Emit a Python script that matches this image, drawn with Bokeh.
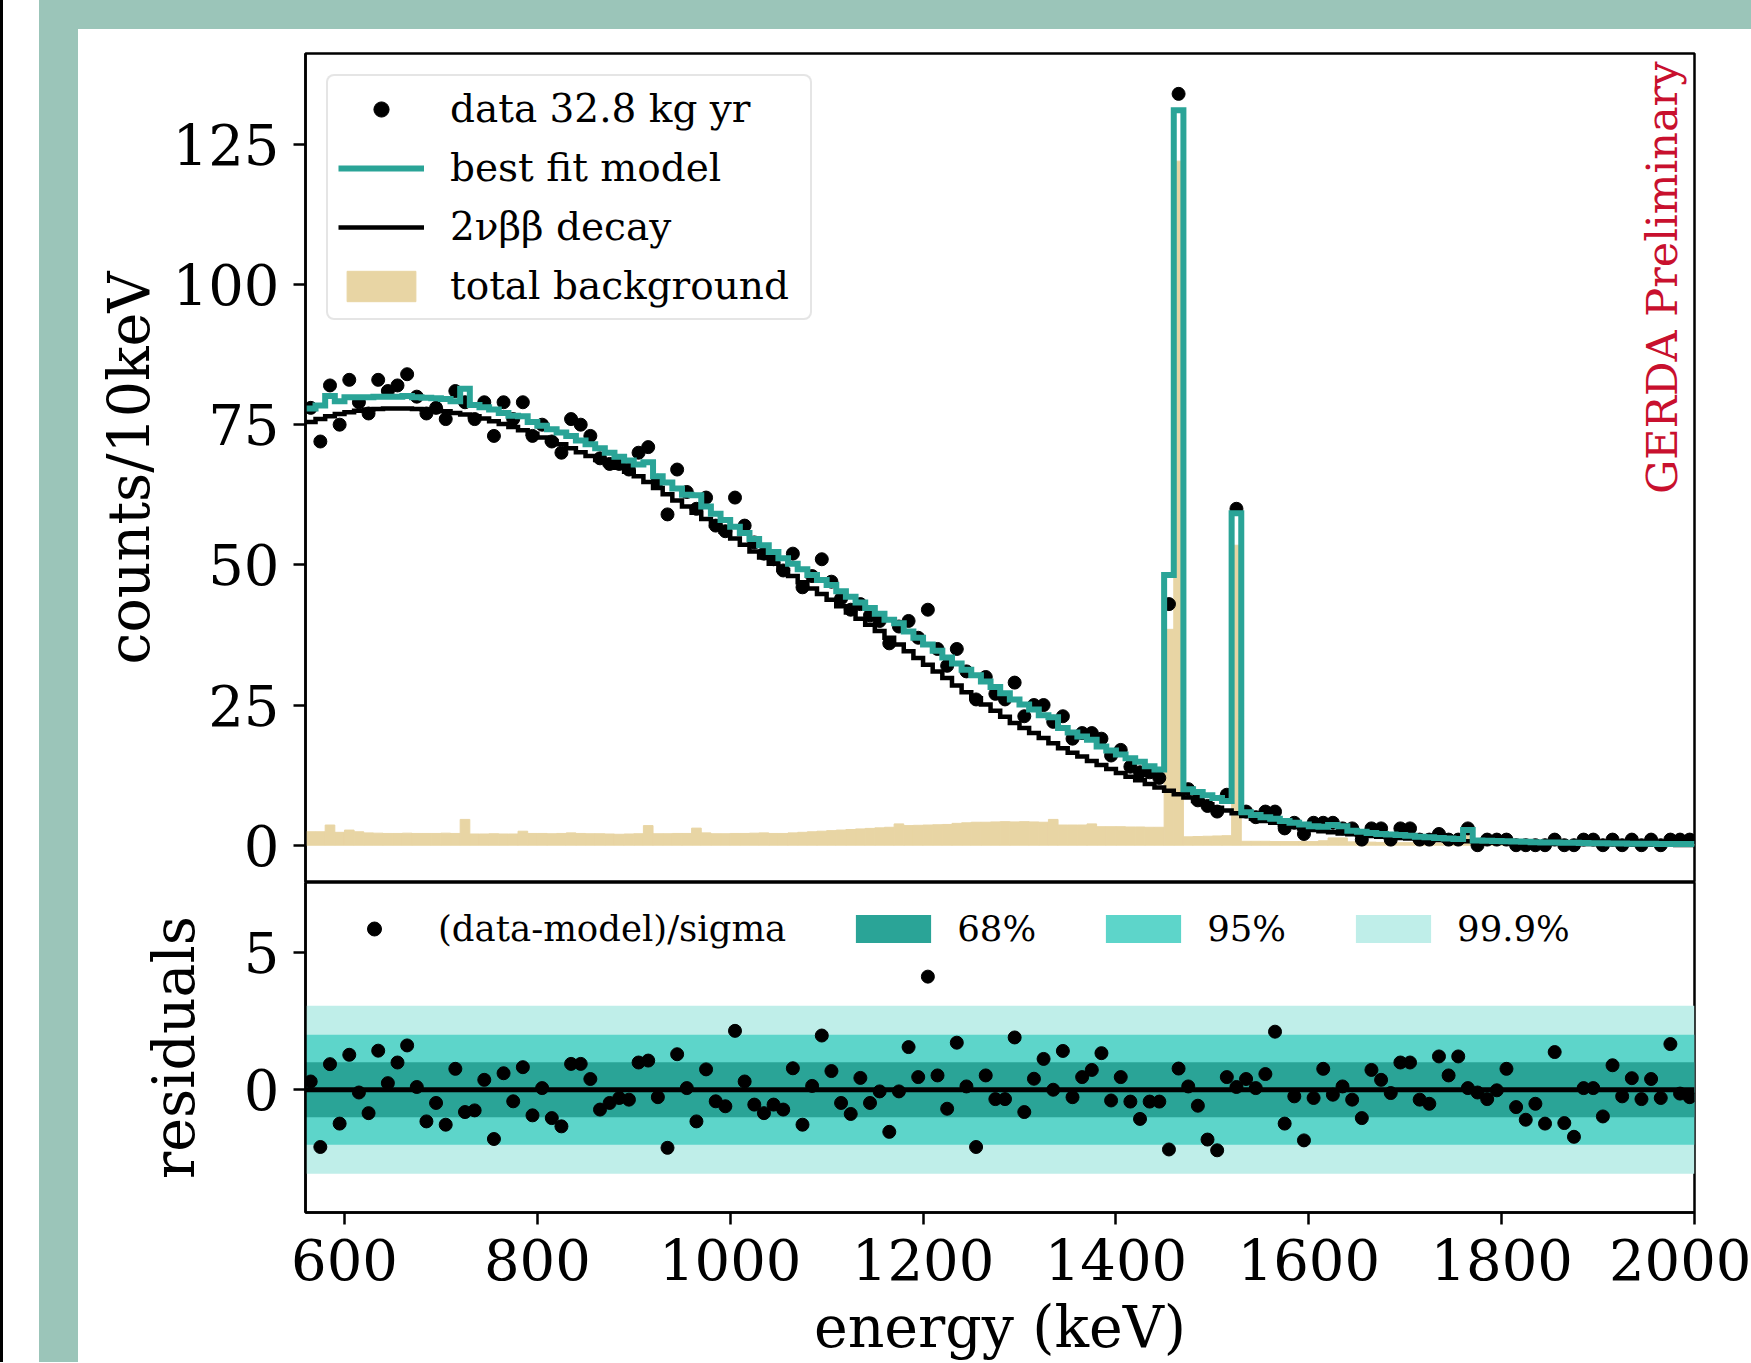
import math
from bokeh.plotting import figure
from bokeh.models import Range1d, FixedTicker, Legend, LegendItem, Label, Span, Div
from bokeh.layouts import row, column
from bokeh.embed import file_html
from bokeh.resources import INLINE

# ---------------- data (10 keV bins from 560 to 2000 keV) ----------------
bin_low = list(range(560, 2000, 10))

data_counts = [
    78, 72, 82, 75, 83, 79, 77, 83, 81, 82,
    84, 80, 77, 78, 76, 81, 79, 76, 79, 73,
    79, 76, 79, 73, 75, 72, 70, 76, 75, 73,
    69, 68, 68, 67, 70, 71, 65, 59, 67, 63,
    60, 62, 57, 56, 62, 57, 54, 52, 51, 49,
    52, 46, 48, 51, 47, 44, 42, 43, 41, 40,
    36, 39, 40, 37, 42, 35, 32, 35, 31, 26,
    30, 27, 26, 29, 23, 25, 25, 22, 23, 19,
    20, 20, 19, 16, 17, 14, 13, 13, 12, 43,
    134, 10, 8, 7, 6, 9, 60, 6, 5, 6,
    6, 3, 4, 2, 4, 4, 4, 3, 3, 1,
    3, 3, 1, 3, 3, 1, 1, 2, 1, 1,
    3, 0, 1, 1, 1, 0, 0, 0, 0, 1,
    0, 0, 1, 1, 0, 1, 0, 1, 0, 1,
    0, 1, 1, 1]

model_counts = [
    77.9, 78.4, 80.1, 79.2, 79.9, 79.9, 79.9, 80.0, 80.0, 80.0,
    80.1, 79.9, 79.8, 79.7, 79.6, 79.2, 81.4, 78.5, 78.1, 77.7,
    77.1, 76.6, 76.5, 75.5, 74.8, 74.2, 73.6, 73.0, 72.2, 71.5,
    70.8, 70.0, 69.3, 68.6, 67.9, 68.3, 65.8, 64.7, 63.6, 62.5,
    62.4, 60.4, 59.1, 58.0, 56.8, 55.7, 54.6, 53.5, 52.3, 51.2,
    50.2, 49.2, 48.2, 47.3, 46.4, 45.3, 44.3, 43.3, 42.3, 41.3,
    40.2, 39.6, 38.1, 37.0, 35.8, 34.7, 33.5, 32.4, 31.3, 30.3,
    29.2, 28.2, 27.1, 26.0, 25.1, 24.2, 23.2, 22.8, 20.9, 20.1,
    19.4, 18.8, 17.6, 16.9, 16.2, 15.5, 14.9, 14.1, 13.5, 48.2,
    131.1, 10.0, 9.5, 8.9, 8.4, 7.9, 59.2, 5.9, 5.4, 5.0,
    4.7, 4.3, 4.0, 3.7, 3.4, 3.3, 3.6, 3.4, 2.6, 2.4,
    2.2, 2.0, 1.9, 1.8, 1.7, 1.5, 1.4, 1.3, 1.2, 1.1,
    2.7, 0.85, 0.8, 0.75, 0.7, 0.65, 0.6, 0.55, 0.5, 0.5,
    0.45, 0.42, 0.39, 0.37, 0.35, 0.32, 0.3, 0.28, 0.26, 0.24,
    0.23, 0.22, 0.21, 0.2]

two_nu_counts = [
    75.5, 76.0, 76.5, 76.9, 77.2, 77.5, 77.7, 77.8, 77.9, 77.9,
    77.9, 77.8, 77.7, 77.6, 77.4, 77.1, 76.8, 76.5, 76.1, 75.6,
    75.1, 74.6, 74.0, 73.4, 72.7, 72.1, 71.5, 70.8, 70.1, 69.4,
    68.7, 68.0, 67.3, 66.6, 65.8, 64.8, 63.7, 62.6, 61.5, 60.4,
    59.3, 58.2, 57.0, 55.9, 54.7, 53.6, 52.4, 51.3, 50.2, 49.1,
    48.0, 46.9, 45.8, 44.8, 43.8, 42.6, 41.5, 40.4, 39.3, 38.2,
    37.0, 35.8, 34.6, 33.4, 32.2, 31.0, 29.8, 28.5, 27.3, 26.2,
    25.1, 24.0, 22.9, 21.8, 20.9, 20.0, 19.1, 18.2, 17.3, 16.5,
    15.8, 15.0, 14.3, 13.6, 12.9, 12.2, 11.6, 10.9, 10.3, 9.7,
    9.1, 8.5, 7.9, 7.3, 6.7, 6.2, 5.7, 5.2, 4.7, 4.3,
    4.0, 3.6, 3.3, 3.0, 2.7, 2.5, 2.3, 2.1, 1.95, 1.8,
    1.65, 1.5, 1.4, 1.3, 1.2, 1.1, 1.0, 0.92, 0.85, 0.78,
    0.71, 0.65, 0.6, 0.55, 0.5, 0.45, 0.41, 0.37, 0.34, 0.31,
    0.28, 0.25, 0.22, 0.2, 0.18, 0.16, 0.14, 0.12, 0.1, 0.09,
    0.08, 0.07, 0.06, 0.05]

background_counts = [
    2.4, 2.4, 3.6, 2.3, 2.7, 2.4, 2.2, 2.15, 2.1, 2.1,
    2.15, 2.1, 2.1, 2.1, 2.15, 2.1, 4.6, 2.0, 2.0, 2.05,
    2.0, 2.0, 2.5, 2.1, 2.1, 2.05, 2.1, 2.2, 2.1, 2.05,
    2.05, 2.0, 1.95, 2.0, 2.05, 3.5, 2.05, 2.05, 2.1, 2.1,
    3.05, 2.2, 2.05, 2.05, 2.1, 2.1, 2.15, 2.2, 2.1, 2.1,
    2.2, 2.3, 2.4, 2.5, 2.6, 2.7, 2.8, 2.9, 3.0, 3.1,
    3.2, 3.8, 3.5, 3.55, 3.6, 3.65, 3.7, 3.9, 4.0, 4.1,
    4.1, 4.15, 4.2, 4.15, 4.2, 4.15, 4.1, 4.6, 3.6, 3.6,
    3.6, 3.8, 3.3, 3.3, 3.3, 3.25, 3.25, 3.2, 3.2, 38.5,
    122.0, 1.5, 1.55, 1.6, 1.65, 1.7, 53.5, 0.7, 0.7, 0.7,
    0.65, 0.65, 0.65, 0.65, 0.65, 0.8, 1.3, 1.3, 0.6, 0.55,
    0.55, 0.5, 0.5, 0.45, 0.45, 0.4, 0.4, 0.4, 0.35, 0.35,
    2.0, 0.2, 0.2, 0.2, 0.2, 0.2, 0.18, 0.18, 0.18, 0.18,
    0.18, 0.17, 0.17, 0.17, 0.17, 0.16, 0.16, 0.16, 0.16, 0.15,
    0.15, 0.15, 0.15, 0.15]

residuals = [
    0.30, -2.08, 0.93, -1.23, 1.27, -0.10, -0.85, 1.42, 0.24, 0.99,
    1.61, 0.10, -1.15, -0.48, -1.27, 0.76, -0.81, -0.75, 0.36, -1.79,
    0.60, -0.42, 0.82, -0.93, 0.06, -1.03, -1.33, 0.94, 0.94, 0.39,
    -0.72, -0.48, -0.30, -0.36, 0.99, 1.06, -0.27, -2.11, 1.29, 0.06,
    -1.15, 0.74, -0.42, -0.60, 2.14, 0.30, -0.54, -0.85, -0.54, -0.72,
    0.78, -1.27, 0.14, 1.97, 0.68, -0.48, -0.88, 0.43, -0.48, -0.06,
    -1.53, -0.06, 1.55, 0.46, 4.11, 0.52, -0.69, 1.71, 0.12, -2.08,
    0.52, -0.34, -0.34, 1.90, -0.81, 0.40, 1.12, 0.00, 1.41, -0.27,
    0.46, 0.72, 1.33, -0.39, 0.46, -0.43, -1.06, -0.43, -0.43, -2.17,
    0.77, 0.12, -0.58, -1.81, -2.20, 0.46, 0.10, 0.39, 0.06, 0.57,
    2.11, -1.23, -0.24, -1.84, -0.30, 0.76, -0.18, 0.12, -0.36, -1.03,
    0.72, 0.36, -0.12, 0.99, 0.99, -0.36, -0.51, 1.21, 0.52, 1.21,
    0.06, -0.10, -0.34, -0.02, 0.76, -0.63, -1.09, -0.51, -1.23, 1.37,
    -1.21, -1.71, 0.06, 0.06, -0.97, 0.89, -0.24, 0.42, -0.34, 0.39,
    -0.30, 1.66, -0.14, -0.27]

band_levels = [3.05, 2.0, 1.0]
band_labels = ["99.9%", "95%", "68%"]

main_yticks = [0, 25, 50, 75, 100, 125]
res_yticks = [0, 5]
xticks = [600, 800, 1000, 1200, 1400, 1600, 1800, 2000]

# ---------------- style ----------------
FONT = "DejaVu Serif"
TEAL = "#2aa497"
BEIGE = "#e8d5a4"
BAND_COLORS = ["#bfeee9", "#5dd5ca", "#2aa497"]
FRAME_GREEN = "#9bc5b9"
RED = "#c8102e"

edges = bin_low + [bin_low[-1] + 10]
centers = [b + 5 for b in bin_low]


def style_axis(ax, tick_size="56px"):
    ax.axis_line_width = 2.5
    ax.axis_line_color = "black"
    ax.major_tick_out = 12
    ax.major_tick_in = 0
    ax.major_tick_line_width = 2.5
    ax.minor_tick_out = 0
    ax.minor_tick_in = 0
    ax.major_label_text_font = FONT
    ax.major_label_text_font_size = tick_size
    ax.major_label_text_color = "black"
    ax.axis_label_text_font = FONT
    ax.axis_label_text_font_size = "57px"
    ax.axis_label_text_font_style = "normal"
    ax.axis_label_text_color = "black"
    ax.major_label_standoff = 14


x_lo, x_hi = 559.6, 2000

# ---------------- main panel ----------------
p1 = figure(width=1673, height=853, x_range=Range1d(x_lo, x_hi),
            y_range=Range1d(-6.65, 141.2), output_backend="svg",
            toolbar_location=None, min_border_left=227, min_border_right=57,
            min_border_top=24, min_border_bottom=0)
p1.grid.visible = False
p1.outline_line_color = "black"
p1.outline_line_width = 2.5
p1.xaxis.visible = False
style_axis(p1.yaxis[0])
p1.yaxis.ticker = FixedTicker(ticks=main_yticks)
p1.yaxis.axis_label = "counts/10keV"
p1.yaxis.axis_label_standoff = 8

r_bkg = p1.quad(left=edges[:-1], right=edges[1:], bottom=0, top=background_counts,
                fill_color=BEIGE, line_color=BEIGE, line_width=1)
r_data = p1.scatter(centers, data_counts, size=13, color="black")
r_two = p1.step(edges, two_nu_counts + [two_nu_counts[-1]], mode="after",
                line_color="black", line_width=4.5, line_join="miter")
r_model = p1.step(edges, model_counts + [model_counts[-1]], mode="after",
                  line_color=TEAL, line_width=6, line_join="miter")

leg1 = Legend(items=[
    LegendItem(label="data 32.8 kg yr", renderers=[r_data]),
    LegendItem(label="best fit model", renderers=[r_model]),
    LegendItem(label="2\u03bd\u03b2\u03b2 decay", renderers=[r_two]),
    LegendItem(label="total background", renderers=[r_bkg]),
], location="top_left", margin=21, padding=10, spacing=14,
    glyph_width=86, glyph_height=38, label_standoff=26, label_width=350,
    label_text_font=FONT, label_text_font_size="39px", label_text_color="black",
    border_line_color="#cccccc", border_line_width=2.5,
    background_fill_color="white", background_fill_alpha=0.85)
try:
    leg1.border_radius = 8
except Exception:
    pass
p1.add_layout(leg1)

p1.add_layout(Label(x=1966.5, y=101.2, text="GERDA Preliminary", angle=math.pi / 2,
                    text_align="center", text_baseline="middle", text_font=FONT,
                    text_font_size="43px", text_color=RED))

# ---------------- residual panel ----------------
p2 = figure(width=1673, height=480, x_range=p1.x_range,
            y_range=Range1d(-4.46, 7.53), output_backend="svg",
            toolbar_location=None, min_border_left=227, min_border_right=57,
            min_border_top=0, min_border_bottom=149)
p2.grid.visible = False
p2.outline_line_color = "black"
p2.outline_line_width = 2.5
style_axis(p2.xaxis[0])
style_axis(p2.yaxis[0])
p2.xaxis.ticker = FixedTicker(ticks=xticks)
p2.yaxis.ticker = FixedTicker(ticks=res_yticks)
p2.xaxis.axis_label = "energy (keV)"
p2.yaxis.axis_label = "residuals"
p2.xaxis.axis_label_standoff = 11
p2.yaxis.axis_label_standoff = 34

band_renderers = []
for lvl, col in zip(band_levels, BAND_COLORS):
    rb = p2.quad(left=[edges[0]], right=[edges[-1]], bottom=[-lvl], top=[lvl],
                 fill_color=col, line_color=None)
    band_renderers.append(rb)
p2.add_layout(Span(location=0, dimension="width", line_color="black", line_width=5))
r_res = p2.scatter(centers, residuals, size=13, color="black")

leg2 = Legend(items=[
    LegendItem(label="(data-model)/sigma", renderers=[r_res]),
    LegendItem(label=band_labels[2], renderers=[band_renderers[2]]),
    LegendItem(label=band_labels[1], renderers=[band_renderers[1]]),
    LegendItem(label=band_labels[0], renderers=[band_renderers[0]]),
], orientation="horizontal", location=(22, 263), padding=0, margin=0,
    spacing=60, glyph_width=94, glyph_height=35, label_standoff=17,
    label_text_font=FONT, label_text_font_size="35.5px", label_text_color="black",
    border_line_alpha=0, background_fill_alpha=0)
p2.add_layout(leg2)

# ---------------- page frame ----------------
left_white = Div(text="", width=39, height=1362, margin=0,
                 styles={"background-color": "white", "border-left": "3px solid black",
                         "box-sizing": "border-box"})
left_green = Div(text="", width=39, height=1362, margin=0,
                 styles={"background-color": FRAME_GREEN})
top_green = Div(text="", width=1673, height=29, margin=0,
                styles={"background-color": FRAME_GREEN})

layout = row(left_white, left_green, column(top_green, p1, p2, spacing=0), spacing=0)

open("out.html", "w").write(file_html(layout, INLINE))
